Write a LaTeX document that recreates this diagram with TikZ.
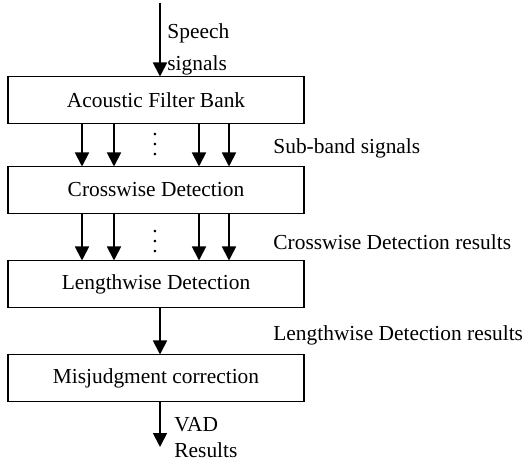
\documentclass[tikz,border=0pt]{standalone}
\usepackage{fontspec}
\setmainfont{Liberation Serif}
\usetikzlibrary{arrows.meta,positioning,calc}

% three stacked dots between the sub-band arrows
\newcommand{\banddots}{\vbox{\baselineskip5pt\lineskiplimit0pt\hbox{.}\hbox{.}\hbox{.}}}

\begin{document}
\begin{tikzpicture}[x=0.5pt, y=-0.5pt,
  block/.style={draw, line width=0.9pt, outer sep=0pt, minimum width=148pt, minimum height=23.5pt, inner sep=0pt, font=\fontsize{10.7}{13}\selectfont},
  arr/.style={-{Triangle[width=7pt,length=7pt]}, line width=0.9pt},
  note/.style={anchor=west, align=left, inner sep=0pt, font=\fontsize{10.7}{13}\selectfont},
  dots/.style={anchor=south, inner sep=0pt, font=\fontsize{10.7}{13}\selectfont}
]
\useasboundingbox (0,0) rectangle (524,459);

\node[block] (fb) at (156,100) {Acoustic Filter Bank};
\node[block, below=21.5pt of fb] (cd) {Crosswise Detection};
\node[block, below=23.5pt of cd] (ld) {Lengthwise Detection};
\node[block, below=23.5pt of ld] (mc) {Misjudgment correction};

\coordinate (in) at (160,3);
\coordinate (out) at (160,447);

% input and output
\draw[arr] (in) -- (160,0 |- fb.north);
\draw[arr] (160,0 |- mc.south) -- (out);
\node[note] (speech) at (167,49) {Speech\\[3pt]signals};
\node[note] (vad) at (174,438) {VAD\\Results};

% parallel sub-band channels
\foreach \x in {82,114,199,229} {
  \draw[arr] (\x,0 |- fb.south) -- (\x,0 |- cd.north);
  \draw[arr] (\x,0 |- cd.south) -- (\x,0 |- ld.north);
}
\node[dots] (dots1) at (155,156) {\banddots};
\node[dots] (dots2) at (155,253) {\banddots};

\draw[arr] (160,0 |- ld.south) -- (160,0 |- mc.north);

% stage outputs
\node[note] (subband) at (273,148) {Sub-band signals};
\node[note] (cdres) at (273,242) {Crosswise Detection results};
\node[note] (ldres) at (273,335) {Lengthwise Detection results};

\end{tikzpicture}
\end{document}
